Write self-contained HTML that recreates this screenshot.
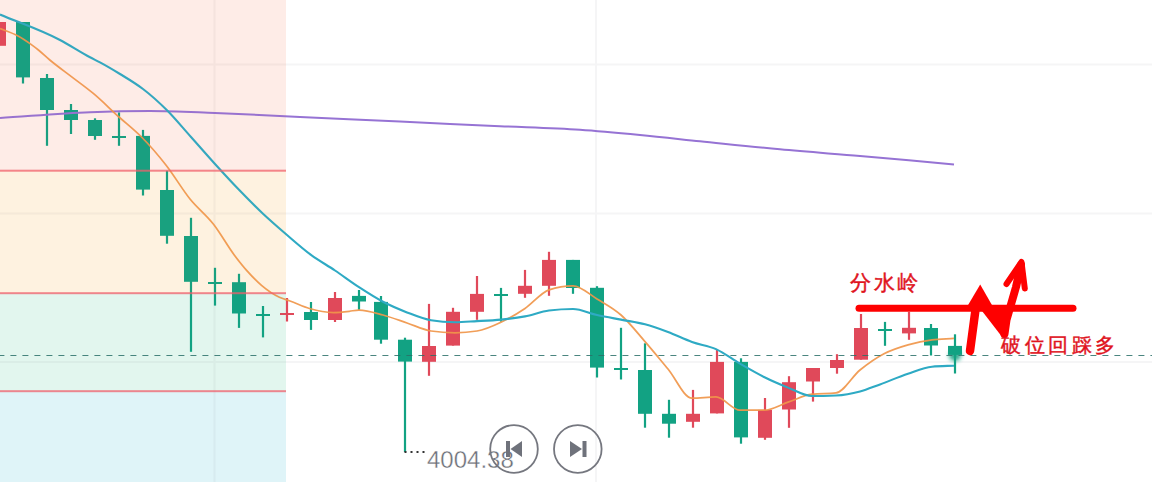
<!DOCTYPE html>
<html><head><meta charset="utf-8"><style>
html,body{margin:0;padding:0;background:#fff;}
body{width:1152px;height:482px;overflow:hidden;position:relative;}
svg{position:absolute;left:0;top:0;}
.t1{font-family:"Liberation Serif",serif;fill:#e0141e;font-size:21px;stroke:#e0141e;stroke-width:0.45px;}
.num{font-family:"Liberation Sans",sans-serif;fill:#6b6e76;font-size:24px;stroke:#fff;stroke-width:0.35px;}
</style></head><body>
<svg width="1152" height="482" viewBox="0 0 1152 482">
<defs>
<filter id="glow" x="-100%" y="-100%" width="300%" height="300%">
<feGaussianBlur in="SourceGraphic" stdDeviation="2.2"/>
</filter>
</defs>
<rect width="1152" height="482" fill="#fff"/>
<!-- grid -->
<g fill="#f5f5f6">
<rect x="0" y="63.5" width="1152" height="2"/>
<rect x="0" y="212.5" width="1152" height="2"/>
<rect x="0" y="361" width="1152" height="2"/>
<rect x="213.5" y="0" width="2" height="482"/>
<rect x="595" y="0" width="2" height="482"/>
</g>
<!-- zones under -->
<g>
<rect x="0" y="0" width="286" height="170" fill="rgba(240,110,60,0.095)"/>
<rect x="0" y="170" width="286" height="123" fill="rgba(250,160,30,0.105)"/>
<rect x="0" y="293" width="286" height="98" fill="rgba(40,190,130,0.10)"/>
<rect x="0" y="391" width="286" height="91" fill="rgba(50,185,210,0.125)"/>
</g>
<!-- candles -->
<rect x="-2.10" y="22" width="2.2" height="23.8" fill="#e0495a"/>
<rect x="-8.00" y="22" width="14" height="23.8" fill="#e0495a"/>
<rect x="21.90" y="22" width="2.2" height="61.5" fill="#12a283"/>
<rect x="16.00" y="22" width="14" height="55.4" fill="#12a283"/>
<rect x="45.90" y="74" width="2.2" height="71.8" fill="#12a283"/>
<rect x="40.00" y="78" width="14" height="32.0" fill="#12a283"/>
<rect x="69.90" y="104" width="2.2" height="30.0" fill="#12a283"/>
<rect x="64.00" y="110" width="14" height="10.0" fill="#12a283"/>
<rect x="93.90" y="118.3" width="2.2" height="21.5" fill="#12a283"/>
<rect x="88.00" y="120" width="14" height="16.0" fill="#12a283"/>
<rect x="117.90" y="112.4" width="2.2" height="33.4" fill="#12a283"/>
<rect x="112.00" y="136" width="14" height="2.0" fill="#12a283"/>
<rect x="141.90" y="129.9" width="2.2" height="65.6" fill="#12a283"/>
<rect x="136.00" y="135.9" width="14" height="53.7" fill="#12a283"/>
<rect x="165.90" y="170.7" width="2.2" height="73.0" fill="#12a283"/>
<rect x="160.00" y="190" width="14" height="45.8" fill="#12a283"/>
<rect x="189.90" y="217.8" width="2.2" height="134.0" fill="#12a283"/>
<rect x="184.00" y="236" width="14" height="45.8" fill="#12a283"/>
<rect x="213.90" y="267.8" width="2.2" height="37.8" fill="#12a283"/>
<rect x="208.00" y="282" width="14" height="2.0" fill="#12a283"/>
<rect x="237.90" y="273.8" width="2.2" height="54.1" fill="#12a283"/>
<rect x="232.00" y="282.2" width="14" height="31.3" fill="#12a283"/>
<rect x="261.90" y="306" width="2.2" height="31.4" fill="#12a283"/>
<rect x="256.00" y="314" width="14" height="2.0" fill="#12a283"/>
<rect x="285.90" y="298" width="2.2" height="23.5" fill="#e0495a"/>
<rect x="280.00" y="313" width="14" height="2.0" fill="#e0495a"/>
<rect x="309.90" y="302" width="2.2" height="27.9" fill="#12a283"/>
<rect x="304.00" y="312" width="14" height="8.0" fill="#12a283"/>
<rect x="333.90" y="292" width="2.2" height="30.0" fill="#e0495a"/>
<rect x="328.00" y="298" width="14" height="22.0" fill="#e0495a"/>
<rect x="357.90" y="290" width="2.2" height="19.8" fill="#12a283"/>
<rect x="352.00" y="295.9" width="14" height="5.6" fill="#12a283"/>
<rect x="379.90" y="296" width="2.2" height="47.7" fill="#12a283"/>
<rect x="374.00" y="301.9" width="14" height="37.8" fill="#12a283"/>
<rect x="403.90" y="337.7" width="2.2" height="114.3" fill="#12a283"/>
<rect x="398.00" y="339.7" width="14" height="21.9" fill="#12a283"/>
<rect x="427.90" y="303.9" width="2.2" height="71.9" fill="#e0495a"/>
<rect x="422.00" y="346" width="14" height="15.8" fill="#e0495a"/>
<rect x="451.90" y="307.8" width="2.2" height="37.8" fill="#e0495a"/>
<rect x="446.00" y="311.8" width="14" height="33.8" fill="#e0495a"/>
<rect x="475.90" y="276" width="2.2" height="43.8" fill="#e0495a"/>
<rect x="470.00" y="293.9" width="14" height="17.9" fill="#e0495a"/>
<rect x="499.90" y="287.9" width="2.2" height="33.8" fill="#12a283"/>
<rect x="494.00" y="294" width="14" height="2.0" fill="#12a283"/>
<rect x="523.90" y="269.9" width="2.2" height="27.9" fill="#e0495a"/>
<rect x="518.00" y="285.8" width="14" height="8.0" fill="#e0495a"/>
<rect x="547.90" y="251.8" width="2.2" height="44.0" fill="#e0495a"/>
<rect x="542.00" y="259.9" width="14" height="25.9" fill="#e0495a"/>
<rect x="571.90" y="259.9" width="2.2" height="33.9" fill="#12a283"/>
<rect x="566.00" y="259.9" width="14" height="28.1" fill="#12a283"/>
<rect x="595.90" y="286.2" width="2.2" height="91.3" fill="#12a283"/>
<rect x="590.00" y="287.8" width="14" height="79.8" fill="#12a283"/>
<rect x="619.90" y="327.8" width="2.2" height="51.7" fill="#12a283"/>
<rect x="614.00" y="368" width="14" height="2.0" fill="#12a283"/>
<rect x="643.90" y="343.3" width="2.2" height="84.4" fill="#12a283"/>
<rect x="638.00" y="370" width="14" height="43.8" fill="#12a283"/>
<rect x="667.90" y="399.8" width="2.2" height="37.9" fill="#12a283"/>
<rect x="662.00" y="413.8" width="14" height="9.9" fill="#12a283"/>
<rect x="691.90" y="389.9" width="2.2" height="37.8" fill="#e0495a"/>
<rect x="686.00" y="413.8" width="14" height="8.0" fill="#e0495a"/>
<rect x="715.90" y="349.9" width="2.2" height="63.5" fill="#e0495a"/>
<rect x="710.00" y="361.9" width="14" height="51.5" fill="#e0495a"/>
<rect x="739.90" y="358.3" width="2.2" height="85.4" fill="#12a283"/>
<rect x="734.00" y="361.9" width="14" height="75.5" fill="#12a283"/>
<rect x="763.90" y="398" width="2.2" height="41.8" fill="#e0495a"/>
<rect x="758.00" y="409.9" width="14" height="27.9" fill="#e0495a"/>
<rect x="787.90" y="376.2" width="2.2" height="51.6" fill="#e0495a"/>
<rect x="782.00" y="382.2" width="14" height="27.3" fill="#e0495a"/>
<rect x="811.90" y="368" width="2.2" height="33.6" fill="#e0495a"/>
<rect x="806.00" y="368" width="14" height="13.5" fill="#e0495a"/>
<rect x="835.90" y="354.2" width="2.2" height="19.5" fill="#e0495a"/>
<rect x="830.00" y="360" width="14" height="8.0" fill="#e0495a"/>
<rect x="859.90" y="314" width="2.2" height="45.7" fill="#e0495a"/>
<rect x="854.00" y="328" width="14" height="31.7" fill="#e0495a"/>
<rect x="883.90" y="321.9" width="2.2" height="23.9" fill="#12a283"/>
<rect x="878.00" y="329" width="14" height="2.0" fill="#12a283"/>
<rect x="907.90" y="311.9" width="2.2" height="27.9" fill="#e0495a"/>
<rect x="902.00" y="327.8" width="14" height="5.6" fill="#e0495a"/>
<rect x="929.90" y="324" width="2.2" height="31.5" fill="#12a283"/>
<rect x="924.00" y="328" width="14" height="17.5" fill="#12a283"/>
<rect x="953.90" y="334.3" width="2.2" height="39.2" fill="#12a283"/>
<ellipse cx="955" cy="356" rx="6" ry="5" fill="#12a283" opacity="0.9" filter="url(#glow)"/>
<rect x="948.00" y="345.9" width="14" height="9.0" fill="#12a283"/>
<!-- MAs -->
<path d="M0.0,118.0 C30.0,116.1 60.0,113.3 90.0,112.2 C110.0,111.4 130.0,111.0 150.0,111.0 C171.7,111.0 193.3,112.2 215.0,113.0 C243.3,114.1 271.7,115.7 300.0,117.0 C333.3,118.6 366.7,120.1 400.0,121.6 C433.3,123.1 466.7,124.7 500.0,126.2 C526.7,127.4 553.3,128.0 580.0,129.8 C600.0,131.2 620.0,133.1 640.0,135.0 C660.0,136.9 680.0,139.2 700.0,141.3 C726.7,144.0 753.3,146.9 780.0,149.3 C806.7,151.8 833.3,153.7 860.0,156.0 C891.3,158.7 922.7,161.6 954.0,164.4" fill="none" stroke="#9673d4" stroke-width="2" stroke-linejoin="round"/>
<path d="M0.0,28.5 C5.2,30.6 10.4,32.2 15.6,34.8 C18.4,36.2 21.1,37.7 23.9,39.4 C25.9,40.7 28.0,42.1 30.0,43.6 C32.8,45.6 35.6,47.7 38.4,50.0 C42.2,53.1 46.0,56.8 49.8,60.0 C57.0,66.0 64.2,71.1 71.4,76.6 C78.6,82.1 85.8,87.2 93.0,93.2 C101.7,100.4 110.3,109.2 119.0,117.0 C126.7,123.9 134.3,129.7 142.0,137.5 C150.1,145.7 158.2,155.1 166.3,165.5 C174.2,175.6 182.1,189.2 190.0,199.0 C197.9,208.8 205.8,214.3 213.7,224.5 C220.7,233.5 227.6,246.2 234.6,255.5 C238.6,260.8 242.6,265.9 246.6,270.4 C251.6,276.0 256.5,281.2 261.5,285.4 C267.5,290.5 273.4,294.5 279.4,297.3 C282.9,298.9 286.5,299.7 290.0,301.0 C296.5,303.3 302.9,306.6 309.4,308.5 C317.4,310.8 325.3,312.5 333.3,312.5 C338.6,312.5 344.0,311.9 349.3,311.3 C352.5,310.9 355.8,310.0 359.0,310.0 C367.0,310.0 375.0,312.8 383.0,315.0 C391.0,317.2 399.0,320.3 407.0,323.0 C415.0,325.7 423.0,329.8 431.0,331.0 C439.0,332.2 447.0,332.8 455.0,332.8 C462.3,332.8 469.7,332.2 477.0,331.0 C485.0,329.7 493.0,326.0 501.0,322.2 C509.0,318.4 517.0,313.8 525.0,308.4 C533.0,303.0 541.0,292.5 549.0,289.8 C557.0,287.1 565.0,285.8 573.0,285.8 C581.0,285.8 589.0,294.1 597.0,299.0 C605.0,303.9 613.0,307.9 621.0,315.0 C629.0,322.1 637.0,332.4 645.0,341.6 C652.7,350.4 660.3,359.8 668.0,369.0 C676.0,378.6 684.0,398.2 692.0,398.2 C700.0,398.2 708.0,396.9 716.0,396.9 C724.0,396.9 732.0,410.2 740.0,410.2 C748.0,410.2 756.0,410.2 764.0,410.2 C772.0,410.2 780.0,404.9 788.0,402.2 C796.0,399.5 804.0,395.1 812.0,394.2 C820.0,393.3 828.0,393.8 836.0,392.9 C844.0,392.0 852.0,376.5 860.0,370.0 C868.0,363.5 876.0,357.9 884.0,353.7 C892.0,349.5 900.0,347.1 908.0,344.8 C916.0,342.5 924.0,340.8 932.0,339.8 C939.3,338.9 946.7,338.9 954.0,338.4" fill="none" stroke="#f0964a" stroke-opacity="0.92" stroke-width="1.75" stroke-linejoin="round"/>
<path d="M0.0,14.5 C20.0,23.0 40.0,29.5 60.0,40.0 C70.0,45.3 80.0,52.0 90.0,57.3 C93.3,59.1 96.7,60.6 100.0,62.4 C106.7,66.0 113.3,69.9 120.0,74.0 C127.7,78.7 135.3,83.1 143.0,89.0 C151.0,95.1 159.0,102.3 167.0,110.3 C175.0,118.3 183.0,128.1 191.0,137.0 C199.0,145.9 207.0,155.2 215.0,164.0 C223.0,172.8 231.0,181.5 239.0,189.8 C247.0,198.1 255.0,206.2 263.0,213.7 C271.0,221.2 279.0,228.1 287.0,235.0 C295.0,241.9 303.0,249.0 311.0,254.9 C319.0,260.8 327.0,265.1 335.0,270.5 C343.0,275.9 351.0,282.0 359.0,287.2 C367.0,292.4 375.0,297.6 383.0,301.8 C391.0,306.0 399.0,309.3 407.0,312.4 C415.0,315.5 423.0,319.0 431.0,320.3 C439.0,321.6 447.0,322.2 455.0,322.2 C462.3,322.2 469.7,321.5 477.0,321.1 C485.0,320.7 493.0,320.4 501.0,319.6 C509.0,318.8 517.0,317.9 525.0,316.4 C533.0,314.9 541.0,311.5 549.0,310.5 C557.0,309.5 565.0,309.0 573.0,309.0 C581.0,309.0 589.0,313.2 597.0,315.0 C605.0,316.8 613.0,318.1 621.0,319.6 C629.0,321.2 637.0,322.2 645.0,324.3 C652.7,326.3 660.3,329.1 668.0,332.0 C676.0,335.0 684.0,339.1 692.0,342.0 C700.0,344.9 708.0,345.5 716.0,349.1 C724.0,352.7 732.0,359.1 740.0,363.7 C748.0,368.3 756.0,373.0 764.0,377.0 C772.0,381.0 780.0,384.4 788.0,387.6 C796.0,390.8 804.0,396.0 812.0,396.0 C820.0,396.0 828.0,395.8 836.0,395.5 C844.0,395.2 852.0,393.7 860.0,391.5 C866.7,389.7 873.3,386.8 880.0,384.4 C889.3,381.0 898.7,376.8 908.0,373.7 C916.0,371.0 924.0,367.4 932.0,366.7 C939.3,366.0 946.7,366.0 954.0,365.7" fill="none" stroke="#2eaac4" stroke-width="2.1" stroke-linejoin="round"/>
<!-- zones over -->
<g>
<rect x="0" y="0" width="286" height="170" fill="rgba(240,110,60,0.03)"/>
<rect x="0" y="170" width="286" height="123" fill="rgba(250,160,30,0.03)"/>
<rect x="0" y="293" width="286" height="98" fill="rgba(40,190,130,0.03)"/>
<rect x="0" y="391" width="286" height="91" fill="rgba(50,185,210,0.03)"/>
<g fill="#f0606c" opacity="0.75">
<rect x="0" y="169.7" width="286" height="2"/>
<rect x="0" y="292.2" width="286" height="2"/>
<rect x="0" y="390.2" width="286" height="2"/>
</g>
</g>
<!-- dashed -->
<line x1="0" y1="355.5" x2="1152" y2="355.5" stroke="#2a7068" stroke-opacity="0.85" stroke-width="1.1" stroke-dasharray="6 6" stroke-dashoffset="1.6"/>
<!-- annotations -->
<text class="t1" x="850" y="290" style="letter-spacing:2.5px">分水岭</text>
<line x1="859" y1="308.3" x2="1073" y2="308.3" stroke="#fe0000" stroke-width="7" stroke-linecap="round"/>
<g fill="none" stroke="#fe0000" stroke-linecap="round" stroke-linejoin="round">
<path d="M970,351 L975.2,312 L976.3,303" stroke-width="8.5"/>
<path d="M1004.5,334 L1006.5,320 L1016,287 L1021,265" stroke-width="8"/>
<path d="M1006.5,284 L1021.5,262 L1024.8,288.5" stroke-width="6"/>
</g>
<g fill="#fe0000">
<polygon points="980.2,284.5 967.5,306 992.5,306"/>
<polygon points="980.5,309 1011.5,309 1006.8,337.5 1002.5,337.5"/>
</g>
<text class="t1" x="1001" y="352" style="font-size:20px;letter-spacing:3.5px">破位回踩多</text>
<!-- bottom label -->
<g fill="#333">
<rect x="404.5" y="451" width="2" height="2"/><rect x="410.5" y="451" width="2" height="2"/><rect x="416.5" y="451" width="2" height="2"/><rect x="422.5" y="451" width="2" height="2"/>
</g>
<text class="num" x="427" y="467.5">4004.38</text>
<g fill="none" stroke="#75777f" stroke-width="1.8">
<circle cx="514" cy="449" r="23.8"/>
<circle cx="577.8" cy="449" r="23.8"/>
</g>
<g fill="#6f727b">
<rect x="506" y="441" width="4" height="16"/>
<polygon points="510.5,449 522,441 522,457"/>
<polygon points="570,441 582,449 570,457"/>
<rect x="582.5" y="441" width="4" height="16"/>
</g>
</svg>
</body></html>
